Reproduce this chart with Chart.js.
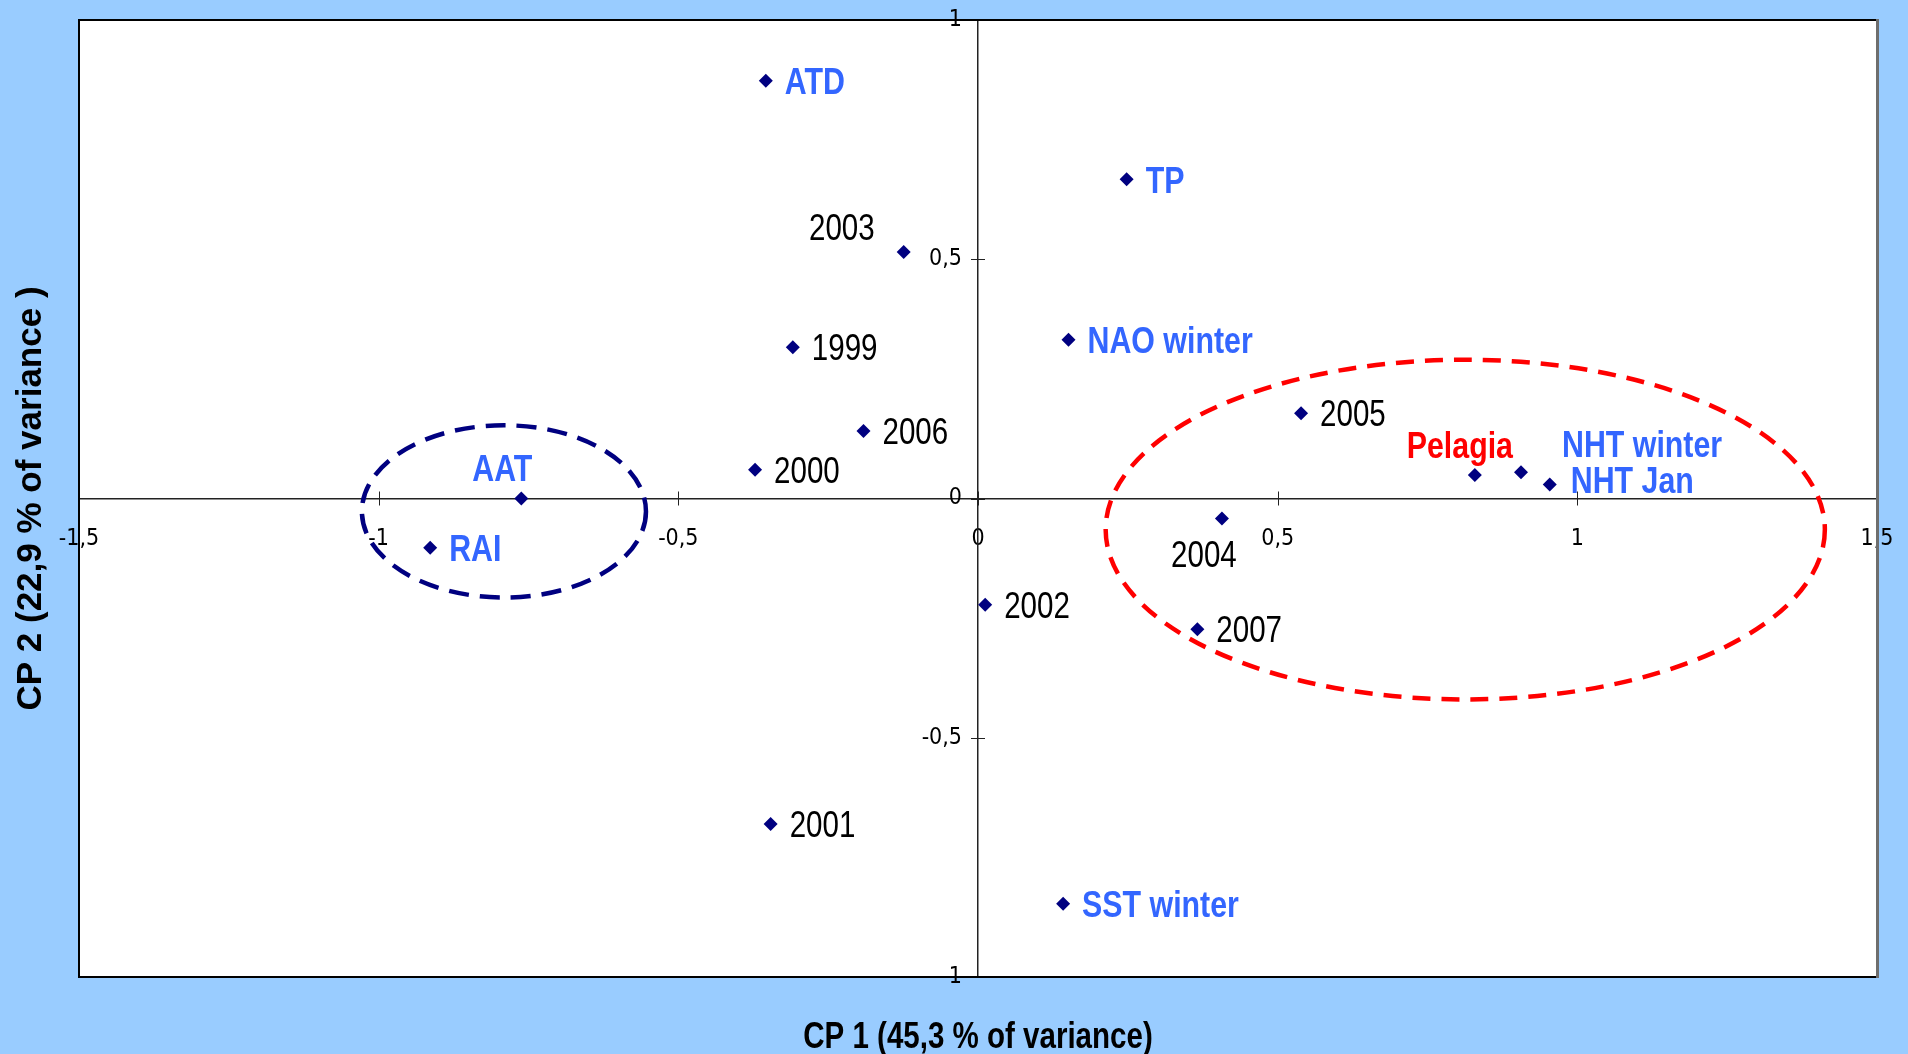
<!DOCTYPE html>
<html>
<head>
<meta charset="utf-8">
<script src="https://cdn.jsdelivr.net/npm/chart.js@4.4.1/dist/chart.umd.min.js"></script>
<style>
  html, body { margin: 0; padding: 0; background: #99CCFF; }
  canvas { display: block; }
</style>
</head>
<body>
<canvas id="pca" width="1908" height="1054"></canvas>
<script>
// Environmental variables on the first two principal components
const variableNames = ['ATD', 'TP', 'NAO winter', 'AAT', 'RAI', 'NHT winter', 'NHT Jan', 'SST winter'];
const variableCP1 = [-0.354, 0.248, 0.151, -0.762, -0.914, 0.906, 0.954, 0.142];
const variableCP2 = [0.873, 0.667, 0.332, 0.000, -0.103, 0.055, 0.029, -0.847];

// Years
const yearNames = ['1999', '2000', '2001', '2002', '2003', '2004', '2005', '2006', '2007'];
const yearCP1 = [-0.309, -0.372, -0.346, 0.012, -0.124, 0.407, 0.539, -0.191, 0.366];
const yearCP2 = [0.316, 0.060, -0.680, -0.222, 0.515, -0.042, 0.178, 0.141, -0.273];

// Species
const speciesNames = ['Pelagia'];
const speciesCP1 = [0.829];
const speciesCP2 = [0.049];

// Axis ticks
const xTickValues = [-1.5, -1, -0.5, 0, 0.5, 1, 1.5];
const xTickLabels = ['-1,5', '-1', '-0,5', '0', '0,5', '1', '1,5'];
const yTickValues = [-1, -0.5, 0, 0.5, 1];
const yTickLabels = ['-1', '-0,5', '0', '0,5', '1'];

const xTitle = 'CP 1 (45,3 % of variance)';
const yTitle = 'CP 2 (22,9 % of variance )';

// Grouping ellipses: centre CP1, centre CP2, half-width CP1, half-height CP2
const coldGroup = [-0.791, -0.027, 0.237, 0.180];
const warmGroup = [0.813, -0.065, 0.600, 0.355];

// ---- styling ----
const SANS = "'Liberation Sans', Arial, sans-serif";
const TICK_FONT = "'DejaVu Sans Condensed', 'Liberation Sans', sans-serif";
const NARROW_SCALE = 0.82;   // Arial-narrow look: regular face squeezed horizontally
const MARKER = '#000080';

const labelPlacement = {
  '2003':       { dx: -29, dy: -22, align: 'right' },
  'AAT':        { dx: -19, dy: -28, align: 'center' },
  'Pelagia':    { dx: -15, dy: -27, align: 'center' },
  'NHT winter': { dx: 41,  dy: -25, align: 'left' },
  'NHT Jan':    { dx: 21,  dy: -2,  align: 'left' },
  '2004':       { dx: -18, dy: 38,  align: 'center' }
};
const defaultPlacement = { dx: 19, dy: 3, align: 'left' };

const toPoints = (xs, ys) => xs.map((x, i) => ({ x, y: ys[i] }));

function makeSet(label, names, xs, ys, color, bold) {
  return {
    label,
    data: toPoints(xs, ys),
    names,
    labelColor: color,
    labelFont: bold ? 'bold 37px ' + SANS : '36px ' + SANS,
    pointStyle: 'rectRot',
    pointRadius: 7,
    pointHoverRadius: 7,
    backgroundColor: MARKER,
    borderColor: MARKER,
    borderWidth: 0,
    showLine: false
  };
}

function narrowText(ctx, text, x, y, align, font, color) {
  ctx.save();
  ctx.translate(x, y);
  ctx.scale(NARROW_SCALE, 1);
  ctx.font = font;
  ctx.fillStyle = color;
  ctx.textAlign = align;
  ctx.textBaseline = 'middle';
  ctx.fillText(text, 0, 0);
  ctx.restore();
}

// axes sit on the zero lines, so they must not reserve any room at the edges
const noEdgePadding = s => { s.paddingTop = s.paddingBottom = s.paddingLeft = s.paddingRight = 0; };

// y tick labels stand a little off the vertical axis
function offsetYLabels(s) {
  if (s._labelsOffset) return;
  const base = Object.getPrototypeOf(s)._computeLabelItems;
  s._computeLabelItems = function (area) {
    const items = base.call(this, area);
    items.forEach(it => { it.options.translation[0] -= 16; });
    return items;
  };
  s._labelsOffset = true;
}

const frame = {
  id: 'frame',
  beforeDraw(chart) {
    const { ctx, chartArea: a } = chart;
    ctx.save();
    ctx.fillStyle = '#99CCFF';
    ctx.fillRect(0, 0, chart.width, chart.height);
    ctx.fillStyle = '#FFFFFF';
    ctx.fillRect(a.left, a.top, a.right - a.left, a.bottom - a.top);
    ctx.restore();
  },
  beforeDatasetsDraw(chart) {
    const { ctx } = chart;
    const xs = chart.scales.x, ys = chart.scales.y;
    const x0 = xs.getPixelForValue(0), y0 = ys.getPixelForValue(0);
    ctx.save();
    // tick marks crossing the axes
    ctx.strokeStyle = '#222';
    ctx.lineWidth = 1;
    xTickValues.forEach(v => {
      const px = Math.round(xs.getPixelForValue(v)) + 0.5;
      ctx.beginPath(); ctx.moveTo(px, y0 - 7); ctx.lineTo(px, y0 + 7); ctx.stroke();
    });
    yTickValues.forEach(v => {
      const py = Math.round(ys.getPixelForValue(v)) + 0.5;
      ctx.beginPath(); ctx.moveTo(x0 - 7, py); ctx.lineTo(x0 + 7, py); ctx.stroke();
    });
    // grouping ellipses
    const drawEllipse = (g, color, dash) => {
      const cx = xs.getPixelForValue(g[0]);
      const cy = ys.getPixelForValue(g[1]);
      const rx = Math.abs(xs.getPixelForValue(g[0] + g[2]) - cx);
      const ry = Math.abs(ys.getPixelForValue(g[1] + g[3]) - cy);
      ctx.beginPath();
      ctx.setLineDash(dash);
      ctx.strokeStyle = color;
      ctx.lineWidth = 4.5;
      ctx.ellipse(cx, cy, rx, ry, 0, 0, Math.PI * 2);
      ctx.stroke();
    };
    drawEllipse(coldGroup, '#000080', [20, 11]);
    drawEllipse(warmGroup, '#FF0000', [18, 11]);
    ctx.restore();
  },
  afterDatasetsDraw(chart) {
    const { ctx } = chart;
    chart.data.datasets.forEach((ds, di) => {
      const meta = chart.getDatasetMeta(di);
      meta.data.forEach((pt, i) => {
        const name = ds.names[i];
        const p = labelPlacement[name] || defaultPlacement;
        narrowText(ctx, name, pt.x + p.dx, pt.y + p.dy, p.align, ds.labelFont, ds.labelColor);
      });
    });
  },
  afterDraw(chart) {
    const { ctx, chartArea: a } = chart;
    ctx.save();
    // plot area border, with a grey shadow on the right edge
    ctx.strokeStyle = '#000';
    ctx.lineWidth = 2;
    ctx.beginPath();
    ctx.moveTo(a.right, a.top); ctx.lineTo(a.left, a.top);
    ctx.lineTo(a.left, a.bottom); ctx.lineTo(a.right, a.bottom);
    ctx.stroke();
    ctx.strokeStyle = '#6E6E6E';
    ctx.lineWidth = 3;
    ctx.beginPath();
    ctx.moveTo(a.right + 0.5, a.top - 1); ctx.lineTo(a.right + 0.5, a.bottom + 1);
    ctx.stroke();
    ctx.restore();
    // axis titles
    narrowText(ctx, xTitle, (a.left + a.right) / 2, 1038, 'center', 'bold 36px ' + SANS, '#000');
    ctx.save();
    ctx.translate(31, (a.top + a.bottom) / 2);
    ctx.rotate(-Math.PI / 2);
    ctx.fillStyle = '#000';
    ctx.textAlign = 'center';
    ctx.textBaseline = 'middle';
    ctx.font = 'bold 35px ' + SANS;
    ctx.fillText(yTitle, 0, 0);
    ctx.restore();
  }
};

new Chart(document.getElementById('pca'), {
  type: 'scatter',
  data: {
    datasets: [
      makeSet('Variables', variableNames, variableCP1, variableCP2, '#3366FF', true),
      makeSet('Years', yearNames, yearCP1, yearCP2, '#000000', false),
      makeSet('Species', speciesNames, speciesCP1, speciesCP2, '#FF0000', true)
    ]
  },
  options: {
    responsive: false,
    devicePixelRatio: 1,
    animation: false,
    layout: { padding: { left: 79, top: 20, right: 31, bottom: 77 } },
    plugins: { legend: { display: false }, tooltip: { enabled: false } },
    scales: {
      x: {
        type: 'linear',
        position: { y: 0 },
        min: -1.5, max: 1.5,
        afterBuildTicks: s => { s.ticks = xTickValues.map(v => ({ value: v })); },
        afterFit: noEdgePadding,
        grid: { display: false, drawTicks: false },
        border: { display: true, color: '#222', width: 1.5 },
        ticks: {
          autoSkip: false, maxRotation: 0, padding: 27, color: '#000',
          font: { family: TICK_FONT, size: 23 },
          callback: (v, i) => xTickLabels[i]
        }
      },
      y: {
        type: 'linear',
        position: { x: 0 },
        min: -1, max: 1,
        afterBuildTicks: s => { s.ticks = yTickValues.map(v => ({ value: v })); },
        afterFit: s => { noEdgePadding(s); offsetYLabels(s); },
        grid: { display: false, drawTicks: false },
        border: { display: true, color: '#222', width: 1.5 },
        ticks: {
          autoSkip: false, padding: 0, color: '#000',
          font: { family: TICK_FONT, size: 23 },
          callback: (v, i) => yTickLabels[i]
        }
      }
    }
  },
  plugins: [frame]
});
</script>
</body>
</html>
